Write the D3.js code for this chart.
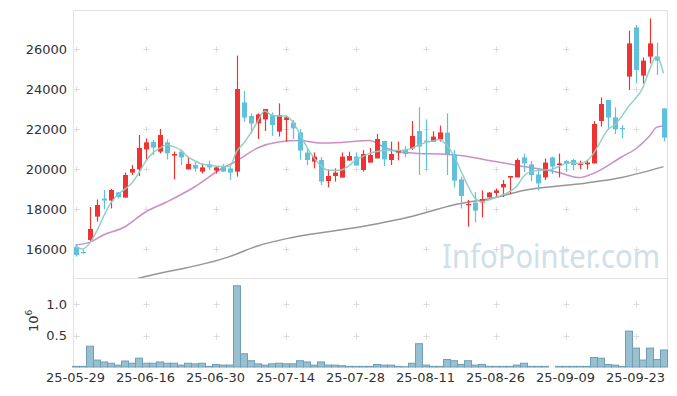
<!DOCTYPE html>
<html lang="en">
<head>
<meta charset="utf-8">
<title>candles</title>
<style>
  body { margin: 0; background: #fff; }
  svg { display: block; font-family: "DejaVu Sans", sans-serif; }
  .tick-label { font-size: 13px; fill: #333; }
</style>
</head>
<body>
<svg id="chart" width="677" height="396"></svg>
<script src="https://d3js.org/d3.v7.min.js"></script>
<script>

// trading days shown on the chart
const dates = [
  "25-05-29","25-05-30","25-06-02","25-06-04","25-06-05","25-06-09","25-06-10","25-06-11","25-06-12","25-06-13",
  "25-06-16","25-06-17","25-06-18","25-06-19","25-06-20","25-06-23","25-06-24","25-06-25","25-06-26","25-06-27",
  "25-06-30","25-07-01","25-07-02","25-07-03","25-07-04","25-07-07","25-07-08","25-07-09","25-07-10","25-07-11",
  "25-07-14","25-07-15","25-07-16","25-07-17","25-07-18","25-07-21","25-07-22","25-07-23","25-07-24","25-07-25",
  "25-07-28","25-07-29","25-07-30","25-07-31","25-08-01","25-08-04","25-08-05","25-08-06","25-08-07","25-08-08",
  "25-08-11","25-08-12","25-08-13","25-08-14","25-08-18","25-08-19","25-08-20","25-08-21","25-08-22","25-08-25",
  "25-08-26","25-08-27","25-08-28","25-08-29","25-09-01","25-09-02","25-09-03","25-09-04","25-09-05","25-09-08",
  "25-09-09","25-09-10","25-09-11","25-09-12","25-09-15","25-09-16","25-09-17","25-09-18","25-09-19","25-09-22",
  "25-09-23","25-09-24","25-09-25","25-09-26","25-09-29"
];

const open = [
  16100,15850,16450,17620,18520,18420,18830,18570,19820,19980,
  20980,21350,20870,21330,20670,20870,19980,20200,19870,20230,
  19920,20150,20030,19870,23330,22650,22280,22480,22700,21870,
  22450,22320,21830,20820,20370,20450,19400,19650,19570,20420,
  20620,19950,20320,20530,21400,20450,20820,20950,21030,21900,
  21420,21370,21480,21820,20730,19480,18200,18320,18330,18580,
  18800,19080,19570,19580,20580,20230,19730,19580,20580,20200,
  20400,20450,20200,20230,20280,22400,23450,22580,22050,24620,
  27080,24670,25620,25620,23030
];
const high = [
  16250,15970,18100,18480,18950,19000,18850,19820,20200,21700,
  21530,21450,22000,21480,20870,20980,20620,20370,20280,20420,
  20150,20250,20100,25670,23900,22780,22780,23000,22830,23280,
  22670,22450,22000,21030,20830,20600,19980,20030,20830,20870,
  20830,20950,21050,21750,21400,21370,21370,21150,22400,23080,
  22480,21880,22170,22780,20950,19620,18450,18850,18930,18850,
  19030,19450,19650,20530,20770,20400,20050,20530,20620,20770,
  20450,20500,20420,20450,22400,23580,23450,23080,22200,26920,
  27200,25580,27530,26320,23030
];
const low = [
  15620,15770,16400,17370,17980,18030,18520,18570,19700,19650,
  20420,20700,20780,20480,19480,20200,19980,19870,19780,19950,
  19770,19850,19450,19620,22370,21780,21500,21900,21650,21620,
  21370,21500,20480,20200,20030,19200,19080,19370,19570,20420,
  20170,19870,20320,20530,20150,20200,20430,20580,20950,19700,
  19950,21370,21370,19700,19080,18030,17120,17330,17580,18580,
  18600,18600,18750,19580,19850,19400,18930,19450,19750,19580,
  19850,19930,20000,19980,20280,22120,21980,21750,21530,23950,
  24280,24280,25280,24700,21380
];
const close = [
  15700,15800,17000,18200,18420,18950,18600,19700,20000,21050,
  21330,21070,21700,20780,20750,20580,20250,20020,20080,20080,
  20080,19870,19820,24000,22570,22270,22730,23000,22200,22700,
  22580,22030,20920,20450,20620,19370,19650,19820,20620,20650,
  20170,20750,20700,21500,20480,20750,20950,20750,21650,21120,
  21380,21620,21830,20730,19420,18650,18250,17920,18500,18820,
  18930,19250,19650,20450,20280,19700,19280,20320,20120,20280,
  20250,20200,20280,20320,22250,23250,22570,21980,22000,26280,
  24950,25420,26280,25420,21570
];

// volume in millions (axis is labelled 10^6)
const volume = [
  0.01,0.01,0.33,0.11,0.08,0.06,0.03,0.095,0.06,0.14,
  0.06,0.06,0.08,0.06,0.06,0.03,0.06,0.05,0.06,0.01,
  0.04,0.03,0.03,1.29,0.21,0.10,0.05,0.03,0.05,0.06,
  0.05,0.05,0.10,0.08,0.03,0.08,0.03,0.03,0.02,0.01,
  0.01,0.01,0.01,0.04,0.03,0.03,0.01,0.005,0.06,0.37,
  0.03,0.01,0.01,0.12,0.10,0.04,0.10,0.03,0.04,0.01,
  0.01,0.01,0.01,0.03,0.06,0.01,0.01,0.01,0,0.01,
  0.01,0.01,0.01,0.01,0.15,0.14,0.04,0.03,0.01,0.57,
  0.30,0.11,0.30,0.12,0.27
];

// 5 day average, read per day
const ma5 = [
  16150,16000,16280,16870,17620,18280,18700,18980,19280,19780,
  20370,20780,21030,21200,21120,20950,20620,20420,20250,20200,
  20150,20120,20120,20870,21280,21780,22370,22900,22700,22650,
  22650,22370,21780,21120,20580,20200,19950,19930,19950,20150,
  20450,20620,20780,20870,20920,20920,20920,20950,21030,21200,
  21320,21400,21480,21200,20700,19950,19200,18580,18370,18450,
  18580,18700,18870,19120,19620,19870,19920,19950,19980,20120,
  20280,20330,20280,20400,20780,21370,21950,22200,22620,23120,
  23530,24030,24950,25620,24780
];

// 20 day average, read at these day indexes
const ma20Idx = [0,2,4,7,10,13,17,21,23,26,29,32,35,38,42,44,46,49,52,55,60,64,69,72,74,78,80,82,83,84];
const ma20 = [16200,16330,16700,17100,17850,18350,19100,20050,20400,21050,21350,21420,21300,21330,21420,21100,20870,20780,20750,20670,20370,20130,19830,19570,19780,20600,21000,21650,22080,22150];

// long average (grey), read at these day indexes
const maLongIdx = [8,10,22,26,31,41,48,54,60,64,73,78,82,84];
const maLong = [14450,14620,15620,16150,16580,17120,17620,18200,18580,18920,19300,19580,19920,20120];

const priceTicks = [16000,18000,20000,22000,24000,26000];
const volTicks = [0.5,1.0];
const dateTickEvery = 10;

const upColor = "#ee3333";
const downColor = "#62c1da";
const gridColor = "#dcdcdc";

const svg = d3.select("#chart");

const pLeft = 73, pRight = 667, pTop = 10, pMid = 278, volBase = 367;

const x = d3.scaleBand()
  .domain(dates)
  .range([pLeft - 1, pRight])
  .padding(0);
const bw = x.bandwidth();
const cx = d => x(d) + bw / 2;

const y = d3.scaleLinear().domain([14550, 27950]).range([pMid, pTop]);
const yv = d3.scaleLinear().domain([0, 1.413]).range([volBase, pMid]);

// frame
const frame = svg.append("g").attr("stroke", "#e2e2e2").attr("stroke-width", 1).attr("fill", "none");
frame.append("line").attr("x1", pLeft).attr("x2", pRight + 1).attr("y1", pTop + 0.5).attr("y2", pTop + 0.5);
frame.append("line").attr("x1", pLeft).attr("x2", pRight + 1).attr("y1", pMid + 0.5).attr("y2", pMid + 0.5);
frame.append("line").attr("x1", pLeft + 0.5).attr("x2", pLeft + 0.5).attr("y1", pTop).attr("y2", volBase);
frame.append("line").attr("x1", pRight + 0.5).attr("x2", pRight + 0.5).attr("y1", pTop).attr("y2", volBase);

// grid crosses
const tickDates = dates.filter((d, i) => i % dateTickEvery == 0);
function cross(g, px, py) {
  g.append("path")
    .attr("d", `M${px - 3},${py}H${px + 3}M${px},${py - 3}V${py + 3}`)
    .attr("stroke", gridColor).attr("stroke-width", 1).attr("fill", "none");
}
const grid = svg.append("g");
tickDates.forEach(d => {
  priceTicks.forEach(v => cross(grid, Math.round(cx(d)) + 0.5, Math.round(y(v)) + 0.5));
  volTicks.forEach(v => cross(grid, Math.round(cx(d)) + 0.5, Math.round(yv(v)) + 0.5));
});

// watermark
svg.append("text")
  .attr("x", 442).attr("y", 268)
  .attr("textLength", 218)
  .attr("lengthAdjust", "spacingAndGlyphs")
  .style("font-family", "'Noto Sans', sans-serif")
  .style("font-size", "32px")
  .attr("fill", "#cfe0e8")
  .text("InfoPointer.com");

// clip for the price panel
svg.append("clipPath").attr("id", "clipMain")
  .append("rect").attr("x", pLeft).attr("y", pTop).attr("width", pRight - pLeft).attr("height", pMid - pTop);

const main = svg.append("g").attr("clip-path", "url(#clipMain)");

// moving averages
const line = d3.line().curve(d3.curveMonotoneX);
main.append("path")
  .attr("d", line(maLongIdx.map((k, j) => [cx(dates[k]), y(maLong[j])])))
  .attr("fill", "none").attr("stroke", "#969696").attr("stroke-width", 1.5);
main.append("path")
  .attr("d", line(ma20Idx.map((k, j) => [cx(dates[k]), y(ma20[j])])))
  .attr("fill", "none").attr("stroke", "#cc8ec6").attr("stroke-width", 1.5);

// candles
const candles = main.selectAll("g.candle").data(dates)
  .enter().append("g")
    .attr("class", "candle")
    .attr("fill", (d, i) => close[i] >= open[i] ? upColor : downColor)
    .attr("stroke", (d, i) => close[i] >= open[i] ? upColor : downColor);

candles.append("line")
  .attr("x1", d => Math.round(cx(d)) + 0.5).attr("x2", d => Math.round(cx(d)) + 0.5)
  .attr("y1", (d, i) => y(high[i])).attr("y2", (d, i) => y(low[i]))
  .attr("stroke-width", 1.2);

candles.append("rect")
  .attr("x", d => Math.round(cx(d)) + 0.5 - 2.5)
  .attr("width", 5)
  .attr("y", (d, i) => y(Math.max(open[i], close[i])))
  .attr("height", (d, i) => Math.max(1.2, Math.abs(y(open[i]) - y(close[i]))))
  .attr("stroke", "none");

main.append("path")
  .attr("d", line(dates.map((d, i) => [cx(d), y(ma5[i])])))
  .attr("fill", "none").attr("stroke", "#8ccdc3").attr("stroke-width", 1.5)
  .attr("opacity", 0.95);

// volume
svg.append("g").selectAll("rect").data(dates)
  .enter().append("rect")
    .attr("x", d => x(d) + 0.5)
    .attr("width", bw)
    .attr("y", (d, i) => yv(volume[i]))
    .attr("height", (d, i) => volBase - yv(volume[i]))
    .attr("fill", "#99c0d1")
    .attr("stroke", "#6f9fb6")
    .attr("stroke-width", 1);

// axes labels
svg.append("g").selectAll("text").data(priceTicks)
  .enter().append("text")
    .attr("class", "tick-label")
    .attr("x", 67).attr("y", d => y(d))
    .attr("dy", "0.36em")
    .attr("text-anchor", "end")
    .text(d => d);

svg.append("g").selectAll("text").data(volTicks)
  .enter().append("text")
    .attr("class", "tick-label")
    .attr("x", 67).attr("y", d => yv(d))
    .attr("dy", "0.36em")
    .attr("text-anchor", "end")
    .text(d => d.toFixed(1));

svg.append("g").selectAll("text").data(tickDates)
  .enter().append("text")
    .attr("class", "tick-label")
    .attr("x", d => cx(d)).attr("y", 382)
    .attr("text-anchor", "middle")
    .text(d => d);

const unit = svg.append("text")
  .attr("class", "tick-label")
  .attr("transform", "translate(38,332) rotate(-90)");
unit.append("tspan").text("10");
unit.append("tspan").attr("dy", -6).style("font-size", "9px").text("6");

</script>
</body>
</html>
